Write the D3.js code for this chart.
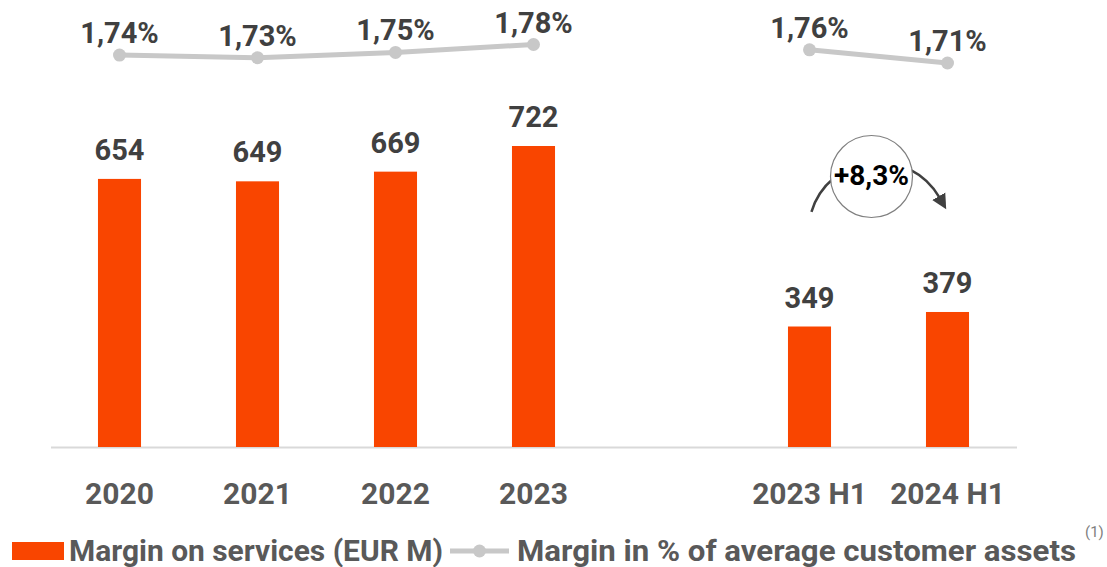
<!DOCTYPE html>
<html lang="en">
<head>
<meta charset="UTF-8">
<title>Margin on services</title>
<script src="https://d3js.org/d3.v7.min.js"></script>
<style>
  body { margin: 0; background: #fff; font-family: Roboto, "Open Sans", sans-serif; }
  svg text { font-family: Roboto, sans-serif; font-weight: 700; }
</style>
</head>
<body>
<div id="chart"></div>
<script>
// data
const years = ["2020", "2021", "2022", "2023"];
const halves = ["2023 H1", "2024 H1"];
const categories = [...years, ...halves];
const margin = [654, 649, 669, 722, 349, 379];            // EUR M
const marginPct = [1.74, 1.73, 1.75, 1.78, 1.76, 1.71];   // % of avg customer assets
const pctLabels = ["1,74%", "1,73%", "1,75%", "1,78%", "1,76%", "1,71%"];
const growthLabel = "+8,3%";
const legendLabels = ["Margin on services (EUR M)", "Margin in % of average customer assets"];
const footnote = "(1)";

const W = 1107, H = 567;
const orange = "#f94500", grey = "#c8c8c8";

const data = categories.map((c, i) => ({ cat: c, value: margin[i], pct: marginPct[i], label: pctLabels[i] }));

const svg = d3.select("#chart").append("svg")
  .attr("width", W).attr("height", H);

// one empty slot between annual and half-year groups
const slots = [...years, "gap", ...halves];
const x = d3.scaleBand()
  .domain(slots)
  .range([50.5, 1016.5])
  .paddingInner(0.688)
  .paddingOuter(0.344);

const y = d3.scaleLinear()
  .domain([100, d3.max(margin)])
  .range([447, 146]);

const yPct = d3.scaleLinear()
  .domain(d3.extent(marginPct))
  .range([63, 44.5]);

const cx = d => x(d.cat) + x.bandwidth() / 2;

// x axis
const axis = svg.append("g")
  .attr("transform", `translate(0,${y(100)})`)
  .call(d3.axisBottom(x).tickValues(categories).tickSize(0).tickPadding(36));
axis.select(".domain").attr("stroke", "#d9d9d9").attr("stroke-width", 2);
axis.selectAll("text")
  .attr("fill", "#595959")
  .style("font-size", "30px")
  .style("font-weight", 700)
  .style("font-family", "Roboto, sans-serif");

// bars
svg.selectAll(".bar")
  .data(data)
  .enter().append("rect")
  .attr("class", "bar")
  .attr("x", d => x(d.cat))
  .attr("width", x.bandwidth())
  .attr("y", d => y(d.value))
  .attr("height", d => y(100) - y(d.value))
  .attr("fill", orange);

svg.selectAll(".val")
  .data(data)
  .enter().append("text")
  .attr("class", "val")
  .attr("x", cx)
  .attr("y", d => y(d.value) - 19)
  .attr("text-anchor", "middle")
  .attr("fill", "#404040")
  .style("font-size", "29px")
  .text(d => d.value);

// percentage line, two separate segments
const line = d3.line().x(cx).y(d => yPct(d.pct));
[data.filter(d => years.includes(d.cat)), data.filter(d => halves.includes(d.cat))].forEach(seg => {
  svg.append("path")
    .datum(seg)
    .attr("d", line)
    .attr("fill", "none")
    .attr("stroke", grey)
    .attr("stroke-width", 5);
});

svg.selectAll(".dot")
  .data(data)
  .enter().append("circle")
  .attr("class", "dot")
  .attr("cx", cx)
  .attr("cy", d => yPct(d.pct))
  .attr("r", 6.5)
  .attr("fill", grey);

svg.selectAll(".pct")
  .data(data)
  .enter().append("text")
  .attr("class", "pct")
  .attr("x", cx)
  .attr("y", d => yPct(d.pct) - 12)
  .attr("text-anchor", "middle")
  .attr("fill", "#404040")
  .style("font-size", "29px")
  .text(d => d.label);

// growth annotation between the half-year bars
const mid = (cx(data[4]) + cx(data[5])) / 2;
const arcC = { x: mid, y: 232 }, arcR = 70;

svg.append("defs").append("marker")
  .attr("id", "arrow")
  .attr("markerUnits", "userSpaceOnUse")
  .attr("markerWidth", 16).attr("markerHeight", 16)
  .attr("viewBox", "0 -8 16 16")
  .attr("refX", 1).attr("refY", 0)
  .attr("orient", "auto")
  .append("path")
  .attr("d", "M0,-7.5L15,0L0,7.5Z")
  .attr("fill", "#404040");

const p = d3.path();
p.arc(arcC.x, arcC.y, arcR, -2.85, -0.52, false);
svg.append("path")
  .attr("d", p.toString())
  .attr("fill", "none")
  .attr("stroke", "#404040")
  .attr("stroke-width", 2.5)
  .attr("marker-end", "url(#arrow)");

svg.append("circle")
  .attr("cx", mid - 7)
  .attr("cy", 176.5)
  .attr("r", 41)
  .attr("fill", "#fff")
  .attr("stroke", "#7f7f7f")
  .attr("stroke-width", 1.2);

svg.append("text")
  .attr("x", mid - 7)
  .attr("y", 185)
  .attr("text-anchor", "middle")
  .attr("fill", "#000")
  .style("font-size", "28px")
  .text(growthLabel);

// legend
const lg = svg.append("g");
lg.append("rect")
  .attr("x", 12).attr("y", 542)
  .attr("width", 52).attr("height", 18)
  .attr("fill", orange);
lg.append("text")
  .attr("x", 69).attr("y", 561)
  .attr("fill", "#595959")
  .attr("textLength", 374)
  .attr("lengthAdjust", "spacingAndGlyphs")
  .style("font-size", "29px")
  .text(legendLabels[0]);
lg.append("line")
  .attr("x1", 450).attr("x2", 509)
  .attr("y1", 551).attr("y2", 551)
  .attr("stroke", grey).attr("stroke-width", 5);
lg.append("circle")
  .attr("cx", 479.5).attr("cy", 551).attr("r", 6.5)
  .attr("fill", grey);
lg.append("text")
  .attr("x", 517).attr("y", 561)
  .attr("fill", "#595959")
  .attr("textLength", 559)
  .attr("lengthAdjust", "spacingAndGlyphs")
  .style("font-size", "29px")
  .text(legendLabels[1]);
lg.append("text")
  .attr("x", 1085).attr("y", 537)
  .attr("fill", "#7f7f7f")
  .style("font-size", "15px")
  .style("font-weight", 400)
  .text(footnote);
</script>
</body>
</html>
